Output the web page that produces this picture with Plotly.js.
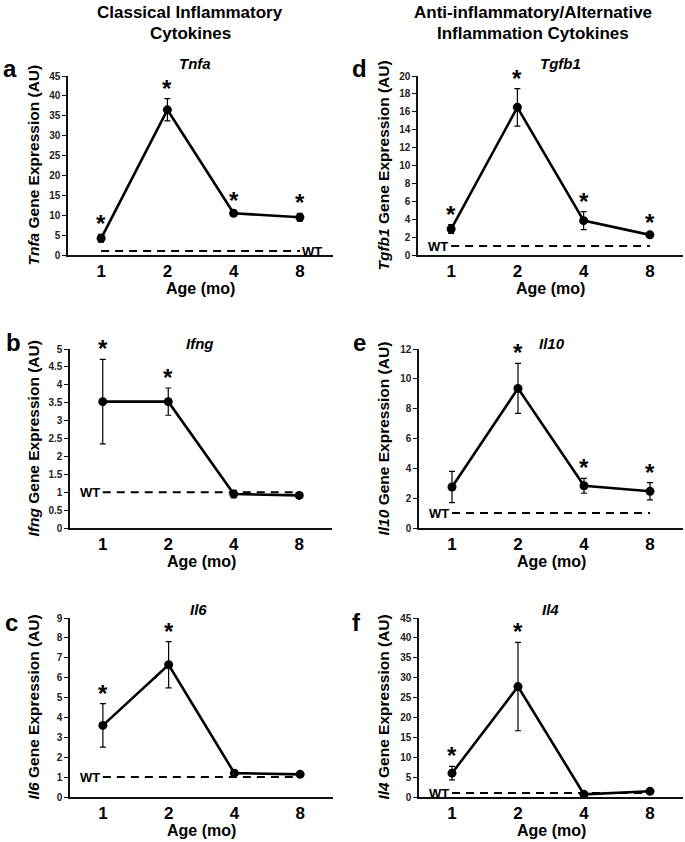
<!DOCTYPE html>
<html><head><meta charset="utf-8">
<script src="https://cdn.plot.ly/plotly-3.0.1.min.js"></script>
<style>html,body{margin:0;padding:0;background:#fff}#chart{width:685px;height:842px}</style>
</head><body><div id="chart"></div>
<script>
// ---- data ----
const ages = ['1', '2', '4', '8'];
const wtLevel = 1;

const tnfaMean = [4.2, 36.5, 10.5, 9.5];
const tnfaErr  = [1.0, 2.8, 0.5, 1.0];
const tnfaSig  = [true, true, true, true];

const ifngMean = [3.53, 3.53, 0.95, 0.91];
const ifngErr  = [1.18, 0.38, 0.1, 0.06];
const ifngSig  = [true, true, false, false];

const il6Mean = [3.6, 6.65, 1.2, 1.14];
const il6Err  = [1.09, 1.16, 0.06, 0.05];
const il6Sig  = [true, true, false, false];

const tgfb1Mean = [2.9, 16.5, 3.84, 2.25];
const tgfb1Err  = [0.5, 2.1, 1.0, 0.18];
const tgfb1Sig  = [true, true, true, true];

const il10Mean = [2.75, 9.36, 2.83, 2.46];
const il10Err  = [1.05, 1.67, 0.5, 0.58];
const il10Sig  = [false, true, true, true];

const il4Mean = [6.0, 27.75, 0.67, 1.43];
const il4Err  = [1.7, 11.1, 0.1, 0.15];
const il4Sig  = [true, true, false, false];

const yTicksA = {max: 45, dtick: 5};
const yTicksB = {max: 5, dtick: 0.5};
const yTicksC = {max: 9, dtick: 1};
const yTicksD = {max: 20, dtick: 2};
const yTicksE = {max: 12, dtick: 2};
const yTicksF = {max: 45, dtick: 5};

const headerLeft = ['Classical Inflammatory', 'Cytokines'];
const headerRight = ['Anti-inflammatory/Alternative', 'Inflammation Cytokines'];

// ---- layout helpers ----
const W = 685, H = 842;
const px = x => x / W;
const py = y => 1 - y / H;
const FONT = 'Liberation Sans, Arial, sans-serif';

const panels = [
  {letter: 'a', gene: 'Tnfa', mean: tnfaMean, err: tnfaErr, sig: tnfaSig, yt: yTicksA,
   box: [68, 333, 76, 255], letterPos: [10, 69], titlePos: [195, 63], yTitleX: 33, wtSide: 'right'},
  {letter: 'b', gene: 'Ifng', mean: ifngMean, err: ifngErr, sig: ifngSig, yt: yTicksB,
   box: [70, 332, 349, 528], letterPos: [13, 342], titlePos: [200, 343], yTitleX: 33, wtSide: 'left'},
  {letter: 'c', gene: 'Il6', mean: il6Mean, err: il6Err, sig: il6Sig, yt: yTicksC,
   box: [70, 333, 618, 797], letterPos: [11, 622], titlePos: [198, 609], yTitleX: 33, wtSide: 'left'},
  {letter: 'd', gene: 'Tgfb1', mean: tgfb1Mean, err: tgfb1Err, sig: tgfb1Sig, yt: yTicksD,
   box: [418, 683, 76, 255], letterPos: [359, 68], titlePos: [560, 63], yTitleX: 383, wtSide: 'left'},
  {letter: 'e', gene: 'Il10', mean: il10Mean, err: il10Err, sig: il10Sig, yt: yTicksE,
   box: [419, 683, 349, 528], letterPos: [359, 342], titlePos: [552, 343], yTitleX: 383, wtSide: 'left'},
  {letter: 'f', gene: 'Il4', mean: il4Mean, err: il4Err, sig: il4Sig, yt: yTicksF,
   box: [419, 683, 618, 797], letterPos: [356, 622], titlePos: [550, 609], yTitleX: 383, wtSide: 'left'}
];

const traces = [];
const annotations = [];
const layout = {
  width: W, height: H,
  margin: {l: 0, r: 0, t: 0, b: 0},
  paper_bgcolor: '#fff', plot_bgcolor: 'rgba(0,0,0,0)',
  showlegend: false,
  font: {family: FONT, color: '#000'},
  annotations: annotations
};

panels.forEach((p, i) => {
  const n = i + 1;
  const xid = n === 1 ? 'x' : 'x' + n;
  const yid = n === 1 ? 'y' : 'y' + n;
  const [x0, x1, y0, y1] = p.box;
  layout['xaxis' + (n === 1 ? '' : n)] = {
    domain: [px(x0), px(x1)], anchor: yid,
    type: 'category', categoryorder: 'array', categoryarray: ages,
    range: [-0.5, ages.length - 0.5],
    showline: true, linecolor: '#111', linewidth: 1.6,
    ticks: '', showgrid: false, zeroline: false, fixedrange: true,
    tickfont: {family: FONT, size: 17, weight: 'bold', color: '#000'}
  };
  layout['yaxis' + (n === 1 ? '' : n)] = {
    domain: [py(y1), py(y0)], anchor: xid,
    range: [0, p.yt.max], dtick: p.yt.dtick, tick0: 0,
    showline: true, linecolor: '#111', linewidth: 1.6,
    ticks: 'outside', ticklen: 4, tickcolor: '#111', tickwidth: 1,
    showgrid: false, zeroline: false, fixedrange: true,
    tickfont: {family: FONT, size: 10, weight: 'bold', color: '#222'}
  };

  // data series (first so category order follows ages)
  traces.push({
    x: ages, y: p.mean, xaxis: xid, yaxis: yid,
    mode: 'lines+markers',
    line: {color: '#000', width: 2.6},
    marker: {color: '#000', size: 9},
    error_y: {type: 'data', array: p.err, visible: true, color: '#000', thickness: 1.2, width: 3}
  });
  // WT dashed reference line
  traces.push({
    x: [ages[0], ages[ages.length - 1]], y: [wtLevel, wtLevel],
    xaxis: xid, yaxis: yid, mode: 'lines', hoverinfo: 'skip',
    line: {color: '#000', width: 2, dash: '8px,6px'}
  });

  // significance stars
  p.sig.forEach((s, k) => {
    if (!s) return;
    annotations.push({
      xref: xid, yref: yid, x: k, y: p.mean[k] + p.err[k],
      text: '<b>*</b>', showarrow: false, yanchor: 'bottom', yshift: -5,
      font: {family: FONT, size: 24, color: '#000'}
    });
  });

  // WT label
  if (p.wtSide === 'right') {
    annotations.push({xref: xid, yref: yid, x: ages.length - 1, y: wtLevel,
      text: '<b>WT</b>', showarrow: false, xanchor: 'left', xshift: 0,
      font: {family: FONT, size: 13, color: '#000'}});
  } else {
    annotations.push({xref: xid, yref: yid, x: 0, y: wtLevel,
      text: '<b>WT</b>', showarrow: false, xanchor: 'right', xshift: -1,
      font: {family: FONT, size: 13, color: '#000'}});
  }

  // panel letter
  annotations.push({xref: 'paper', yref: 'paper', x: px(p.letterPos[0]), y: py(p.letterPos[1]),
    text: '<b>' + p.letter + '</b>', showarrow: false, xanchor: 'center', yanchor: 'middle',
    font: {family: FONT, size: 24, color: '#000'}});
  // panel title
  annotations.push({xref: 'paper', yref: 'paper', x: px(p.titlePos[0]), y: py(p.titlePos[1]),
    text: '<b><i>' + p.gene + '</i></b>', showarrow: false, xanchor: 'center', yanchor: 'middle',
    font: {family: FONT, size: 15, color: '#000'}});
  // y-axis title
  annotations.push({xref: 'paper', yref: 'paper', x: px(p.yTitleX), y: py((y0 + y1) / 2),
    text: '<b><i>' + p.gene + '</i> Gene Expression (AU)</b>', showarrow: false, textangle: -90,
    xanchor: 'center', yanchor: 'middle',
    font: {family: FONT, size: 15.5, color: '#000'}});
  // x-axis title
  annotations.push({xref: 'paper', yref: 'paper', x: px((x0 + x1) / 2), y: py(y1 + 33),
    text: '<b>Age (mo)</b>', showarrow: false, xanchor: 'center', yanchor: 'middle',
    font: {family: FONT, size: 16, color: '#000'}});
});

// column headers (one annotation per line)
[[headerLeft, 190], [headerRight, 533]].forEach(([lines, cx]) => {
  lines.forEach((t, j) => {
    annotations.push({xref: 'paper', yref: 'paper', x: px(cx), y: py(12 + 21 * j),
      text: '<b>' + t + '</b>', showarrow: false, xanchor: 'center', yanchor: 'middle',
      borderpad: 0, font: {family: FONT, size: 17, color: '#000'}});
  });
});

Plotly.newPlot('chart', traces, layout, {staticPlot: true, displayModeBar: false});
</script>
</body></html>
